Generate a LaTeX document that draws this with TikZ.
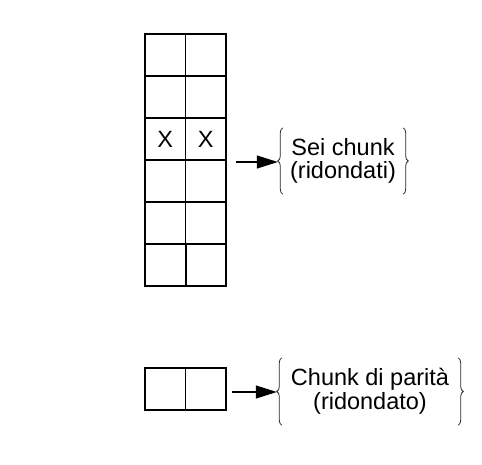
\documentclass[tikz,border=0pt]{standalone}
\usepackage{fontspec}
\setmainfont{Liberation Sans}
\usetikzlibrary{arrows.meta,decorations.pathreplacing}
\begin{document}
\begin{tikzpicture}[x=1pt,y=-1pt,
  cell/.style={draw=black,line width=1.3pt,minimum width=40.5pt,minimum height=42pt,inner sep=0pt},
  big/.style={font=\fontsize{23.5pt}{23.5pt}\selectfont},
  lbl/.style={big,inner sep=0pt,align=center,text=black},
  conn/.style={line width=1.2pt,-{Triangle[length=21pt,width=13pt]}},
  brc/.style={decorate,decoration={brace,amplitude=5pt},line width=0.8pt,black!85}]
\useasboundingbox (0,0) rectangle (482,464);
% grid of six rows
\foreach \r/\y in {1/55,2/97,3/139,4/181,5/223,6/265}{
  \node[cell] (c\r a) at (165.25,\y) {};
  \node[cell] (c\r b) at (205.75,\y) {};
}
\node[big,inner sep=0pt] (x1) at (c3a) {X};
\node[big,inner sep=0pt] (x2) at (c3b) {X};
\draw[line width=2.2pt] (c6a.north east) -- (c6a.south east);
% parity
\node[cell] (pa) at (165.25,389) {};
\node[cell] (pb) at (205.75,389) {};
% labels
\node[lbl,minimum width=120pt,minimum height=66pt] (t1) at (343,161) {Sei chunk\\(ridondati)};
\node[lbl,minimum width=176pt,minimum height=67pt] (t2) at (370,391.5) {Chunk di parità\\(ridondato)};
\draw[brc] (t1.south west) -- (t1.north west);
\draw[brc] (t1.north east) -- (t1.south east);
\draw[brc] (t2.south west) -- (t2.north west);
\draw[brc] (t2.north east) -- (t2.south east);
% arrows
\coordinate (s1) at (236,162);
\coordinate (s2) at (232,392);
\draw[conn] (s1) -- ([xshift=-5pt]t1.west |- s1);
\draw[conn] (s2) -- ([xshift=-5pt]t2.west |- s2);
\end{tikzpicture}
\end{document}
